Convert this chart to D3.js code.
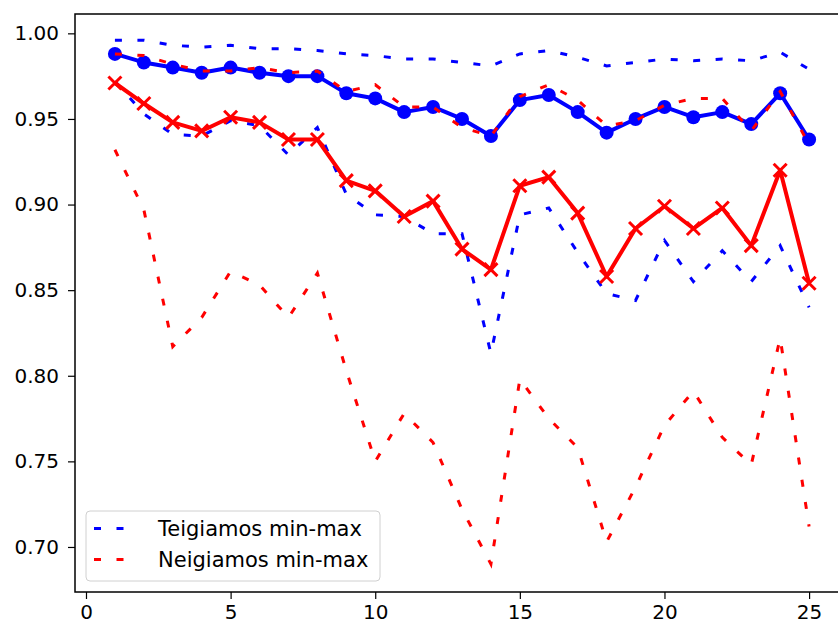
<!DOCTYPE html>
<html>
<head>
<meta charset="utf-8">
<script src="https://cdn.jsdelivr.net/npm/d3@7"></script>
<style>
	body { margin: 0; background: #fff; }
	svg text { font-family: "DejaVu Sans", sans-serif; fill: #000; }
</style>
</head>
<body>
<div id="chart"></div>
<script>

// epochos 1..25
var epochs = d3.range(1, 26);

// teigiamos klases vidurkis, max ir min
var blueMean = [0.988, 0.983, 0.980, 0.977, 0.980, 0.977, 0.975, 0.975, 0.965, 0.962, 0.954, 0.957, 0.950,
	0.940, 0.961, 0.964, 0.954, 0.942, 0.950, 0.957, 0.951, 0.954, 0.947, 0.965, 0.938];
var blueMax = [0.996, 0.996, 0.993, 0.992, 0.993, 0.991, 0.991, 0.990, 0.988, 0.987, 0.985, 0.985, 0.983,
	0.981, 0.988, 0.990, 0.986, 0.981, 0.983, 0.985, 0.984, 0.985, 0.984, 0.989, 0.979];
var blueMin = [0.972, 0.953, 0.941, 0.940, 0.949, 0.946, 0.929, 0.945, 0.906, 0.894, 0.893, 0.883, 0.883,
	0.813, 0.894, 0.898, 0.872, 0.848, 0.844, 0.879, 0.855, 0.873, 0.855, 0.876, 0.840];

// neigiamos klases vidurkis, max ir min
var redMean = [0.971, 0.959, 0.948, 0.943, 0.951, 0.948, 0.938, 0.938, 0.914, 0.908, 0.893, 0.902, 0.874,
	0.862, 0.911, 0.916, 0.895, 0.858, 0.886, 0.899, 0.886, 0.898, 0.876, 0.920, 0.854];
var redMax = [0.988, 0.987, 0.982, 0.978, 0.978, 0.980, 0.977, 0.978, 0.966, 0.970, 0.957, 0.957, 0.945,
	0.940, 0.963, 0.970, 0.961, 0.946, 0.949, 0.958, 0.962, 0.962, 0.943, 0.966, 0.935];
var redMin = [0.932, 0.897, 0.817, 0.834, 0.861, 0.853, 0.834, 0.860, 0.803, 0.750, 0.778, 0.761, 0.722,
	0.690, 0.798, 0.775, 0.758, 0.703, 0.735, 0.771, 0.791, 0.764, 0.748, 0.822, 0.712];

var xTicks = [0, 5, 10, 15, 20, 25];
var yTicks = [0.70, 0.75, 0.80, 0.85, 0.90, 0.95, 1.00];
var legendLabels = ["Teigiamos min-max", "Neigiamos min-max"];

var width = 838,
	height = 625,
	plotL = 75, plotR = 849, plotT = 14, plotB = 592,
	blue = "#0000ff",
	red = "#ff0000",
	dots = "7,15.5";

var svg = d3.select("#chart").append("svg")
	.attr("width", width)
	.attr("height", height);

var x = d3.scaleLinear().domain([-0.38, 26.38]).range([plotL, plotR]);
var y = d3.scaleLinear().domain([0.6737, 1.0113]).range([plotB, plotT]);

// ejes
var yAxis = svg.append("g")
	.attr("transform", "translate(" + plotL + ",0)")
	.call(d3.axisLeft(y).tickValues(yTicks).tickFormat(d3.format(".2f"))
		.tickSize(7).tickSizeOuter(0).tickPadding(9));
var xAxis = svg.append("g")
	.attr("transform", "translate(0," + plotB + ")")
	.call(d3.axisBottom(x).tickValues(xTicks).tickFormat(d3.format("d"))
		.tickSize(7).tickSizeOuter(0).tickPadding(6));

[xAxis, yAxis].forEach(function (a) {
	a.select(".domain").remove();
	a.selectAll(".tick line").attr("stroke", "#000").attr("stroke-width", 1.2);
	a.selectAll("text").style("font-size", "20px").attr("fill", "#000");
});

var line = function (vals) {
	return d3.line()
		.x(function (d, i) { return x(epochs[i]); })
		.y(function (d) { return y(d); })(vals);
};

function dotted(vals, color) {
	svg.append("path")
		.attr("d", line(vals))
		.attr("fill", "none")
		.attr("stroke", color)
		.attr("stroke-width", 3)
		.attr("stroke-dasharray", dots);
}

function solid(vals, color) {
	svg.append("path")
		.attr("d", line(vals))
		.attr("fill", "none")
		.attr("stroke", color)
		.attr("stroke-width", 4)
		.attr("stroke-linejoin", "round");
}

// teigiami
solid(blueMean, blue);
svg.selectAll(".circ")
	.data(blueMean)
	.enter()
	.append("circle")
		.attr("class", "circ")
		.attr("cx", function (d, i) { return x(epochs[i]); })
		.attr("cy", function (d) { return y(d); })
		.attr("r", 7)
		.attr("fill", blue);
dotted(blueMax, blue);
dotted(blueMin, blue);

// neigiami
solid(redMean, red);
svg.selectAll(".cross")
	.data(redMean)
	.enter()
	.append("path")
		.attr("class", "cross")
		.attr("transform", function (d, i) { return "translate(" + x(epochs[i]) + "," + y(d) + ")"; })
		.attr("d", "M-6.5,-6.5L6.5,6.5M-6.5,6.5L6.5,-6.5")
		.attr("stroke", red)
		.attr("stroke-width", 3);
dotted(redMax, red);
dotted(redMin, red);

// marco
svg.append("rect")
	.attr("x", plotL).attr("y", plotT)
	.attr("width", plotR - plotL).attr("height", plotB - plotT)
	.attr("fill", "none")
	.attr("stroke", "#000")
	.attr("stroke-width", 1.5);

// leyenda
var legend = svg.append("g");
legend.append("rect")
	.attr("x", 86).attr("y", 511)
	.attr("width", 294).attr("height", 70)
	.attr("rx", 4)
	.attr("fill", "#fff").attr("fill-opacity", 0.8)
	.attr("stroke", "#d0d0d0")
	.attr("stroke-width", 1);

[blue, red].forEach(function (c, i) {
	var ly = 528.5 + i * 31;
	legend.append("line")
		.attr("x1", 94).attr("x2", 134)
		.attr("y1", ly).attr("y2", ly)
		.attr("stroke", c)
		.attr("stroke-width", 3)
		.attr("stroke-dasharray", dots);
	legend.append("text")
		.attr("x", 158).attr("y", ly + 7.5)
		.style("font-size", "21px")
		.text(legendLabels[i]);
});

</script>
</body>
</html>
